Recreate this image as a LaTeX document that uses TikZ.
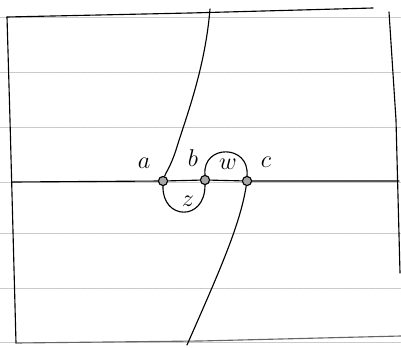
\documentclass[tikz,border=0pt]{standalone}
\tikzset{
  punto/.style={circle, draw, fill=gray!70, inner sep=0pt, minimum size=6.5pt, line width=0.8pt},
  rotulo/.style={font=\LARGE},
  raya/.style={gray!45, line width=0.4pt, dash pattern=on 1pt off 0.6pt}
}
\begin{document}
\begin{tikzpicture}[x=0.025cm, y=-0.025cm, line width=0.8pt, line cap=round, line join=round]
  \useasboundingbox (0,0) rectangle (401,348);
  % las rayas del papel
  \foreach \y in {17,72,127,182,233,288,342} {
    \draw[raya] (0,\y) -- (401,\y);
  }
  % el marco
  \draw (7,17) -- (190,13) -- (373,8);
  \draw (7,17) -- (10,120) -- (16,343);
  \draw (389,12) -- (396,120) -- (400,273);
  \draw[black!60] (16,343) -- (200,341) -- (401,336);
  % los tres puntos
  \node[punto] (a) at (163,181) {};
  \node[punto] (b) at (205,180) {};
  \node[punto] (c) at (247,181) {};
  % la linea horizontal
  \coordinate (izq) at (12,182);
  \coordinate (der) at (399,181);
  \draw (izq) -- (a) -- (b) -- (c) -- (der);
  % la curva de arriba y la de abajo
  \coordinate (arriba) at (210,9);
  \coordinate (abajo) at (187,345);
  \draw (arriba) .. controls (205,70) and (185,120) .. (176,150)
        .. controls (170,168) and (166,172) .. (a);
  \draw (c) .. controls (240,225) and (220,270) .. (abajo);
  % los dos lazos
  \draw (a.south) .. controls (162,220) and (205,222) .. (b.south);
  \draw (b.north) .. controls (202,144) and (250,144) .. (c.north);
  % los rotulos
  \node[rotulo] (la) at (144,163) {$a$};
  \node[rotulo] (lb) at (193,158) {$b$};
  \node[rotulo] (lw) at (228,164) {$w$};
  \node[rotulo] (lc) at (266,162) {$c$};
  \node[rotulo] (lz) at (188,201) {$z$};
\end{tikzpicture}
\end{document}
